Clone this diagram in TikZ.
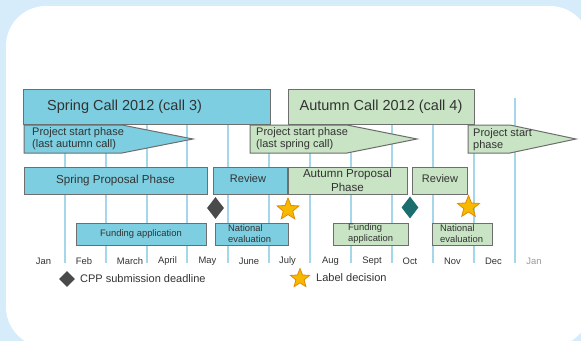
\documentclass[tikz,border=0pt]{standalone}
\usepackage{fontspec}
\setmainfont{Liberation Sans}
\usetikzlibrary{shapes.geometric}
\definecolor{bg}{HTML}{D6ECFA}
\definecolor{gridc}{HTML}{A6D6EA}
\definecolor{bluef}{HTML}{7DCEE0}
\definecolor{greenf}{HTML}{C8E4C4}
\definecolor{bord}{HTML}{6E6E6E}
\definecolor{txt}{HTML}{333333}
\definecolor{darkd}{HTML}{4A4A4A}
\definecolor{teald}{HTML}{1B6E6E}
\definecolor{starf}{HTML}{F7B800}
\definecolor{stard}{HTML}{E38A00}
\tikzset{
  gridline/.style={gridc, line width=1.4pt},
  bbox/.style={draw=bord, line width=1pt, fill=bluef, inner sep=0pt, text=txt},
  gbox/.style={draw=bord, line width=1pt, fill=greenf, inner sep=0pt, text=txt},
  lbl/.style={inner sep=0pt, text=txt},
  fA/.style={font=\fontsize{14.5}{17}\selectfont},
  fB/.style={font=\fontsize{11}{12}\selectfont},
  fC/.style={font=\fontsize{11.6}{14}\selectfont},
  fD/.style={font=\fontsize{9.4}{11.5}\selectfont},
  fM/.style={font=\fontsize{9.4}{11}\selectfont},
  ddiam/.style={diamond, fill=#1, inner sep=0pt, minimum width=17pt, minimum height=22pt},
  lstar/.style={star, star points=5, star point ratio=2.3, fill=starf, draw=stard, line width=0.8pt, inner sep=0pt, minimum size=#1}
}
\begin{document}
\begin{tikzpicture}[x=1pt,y=-1pt]
\useasboundingbox (0,0) rectangle (581,341);
\fill[bg] (0,0) rectangle (581,341);
\begin{scope}
\clip (0,0) rectangle (581,341);
\fill[white, rounded corners=40pt] (6,6) rectangle (590,347);
\end{scope}

% month grid lines
\foreach \gx in {65,106,147,187,228,269,310,351,392,433,474,515}
  \draw[gridline] (\gx,98) -- (\gx,263);

% top call boxes
\node[bbox, minimum width=247pt, minimum height=35pt] (spring) at (146.5,106.5) {};
\node[lbl, fA, anchor=west] (springt) at (47,106.5) {Spring Call 2012 (call 3)};
\node[gbox, fA, minimum width=186pt, minimum height=35pt] (autumn) at (381,106.5) {Autumn Call 2012 (call 4)};

% project start arrows
\draw[draw=bord, line width=1pt, fill=bluef] (24,125) -- (122,125) -- (193,139) -- (122,153) -- (24,153) -- cycle;
\node[lbl, fB, anchor=west, align=left] (ps1) at (32,139) {Project start phase\\(last autumn call)};
\draw[draw=bord, line width=1pt, fill=greenf] (250,125) -- (347,125) -- (417,139) -- (347,153) -- (250,153) -- cycle;
\node[lbl, fB, anchor=west, align=left] (ps2) at (256,139) {Project start phase\\(last spring call)};
\draw[draw=bord, line width=1pt, fill=greenf] (468,125) -- (510,125) -- (576,139) -- (510,153) -- (468,153) -- cycle;
\node[lbl, fB, anchor=west, align=left] (ps3) at (473,140) {Project start\\phase};

% proposal / review row
\node[bbox, fC, minimum width=183pt, minimum height=27pt] (spp) at (115.5,180.5) {Spring Proposal Phase};
\node[bbox, minimum width=74pt, minimum height=27pt] (rev1) at (250,180.5) {};
\node[lbl, fB] (rev1t) at (248,178.5) {Review};
\node[gbox, fC, align=center, minimum width=119pt, minimum height=27pt] (app) at (347.5,180.5) {Autumn Proposal\\Phase};
\node[gbox, minimum width=55pt, minimum height=27pt] (rev2) at (439.5,180.5) {};
\node[lbl, fB] (rev2t) at (440,178.5) {Review};

% milestones
\node[ddiam=darkd] (cpp1) at (215.5,208) {};
\node[lstar=23pt] (lab1) at (288,209.5) {};
\node[ddiam=teald] (cpp2) at (410,207.5) {};
\node[lstar=23pt] (lab2) at (468.5,207) {};

% funding / evaluation row
\node[bbox, fD, minimum width=130pt, minimum height=22pt] (fa1) at (141,234) {Funding application};
\node[bbox, minimum width=73pt, minimum height=22pt] (ne1) at (251.5,234) {};
\node[lbl, fD, anchor=west, align=left] (ne1t) at (228,233.5) {National\\evaluation};
\node[gbox, minimum width=75pt, minimum height=22pt] (fa2) at (370.5,234) {};
\node[lbl, fD, anchor=west, align=left] (fa2t) at (348,233.5) {Funding\\application};
\node[gbox, minimum width=60pt, minimum height=22pt] (ne2) at (462,234) {};
\node[lbl, fD, anchor=west, align=left] (ne2t) at (440,233.5) {National\\evaluation};

% months
\foreach \mx/\mn [count=\i] in {43.5/Jan,84/Feb,130/March,167.5/April,207.5/May,249/June,287.5/July,330.5/Aug,372/Sept,410/Oct,452.5/Nov,493.5/Dec}
  \node[lbl, fM] (m\i) at (\mx,261) {\mn};
\node[lbl, fM, text=black!40] (m13) at (534,261) {Jan};

% legend
\node[diamond, fill=darkd, inner sep=0pt, minimum width=16pt, minimum height=16pt] (legd) at (67,279) {};
\node[lbl, fB, anchor=west] (legdt) at (80,279) {CPP submission deadline};
\node[lstar=20pt] (legs) at (300,278.5) {};
\node[lbl, fB, anchor=west] (legst) at (316,278) {Label decision};
\end{tikzpicture}
\end{document}
